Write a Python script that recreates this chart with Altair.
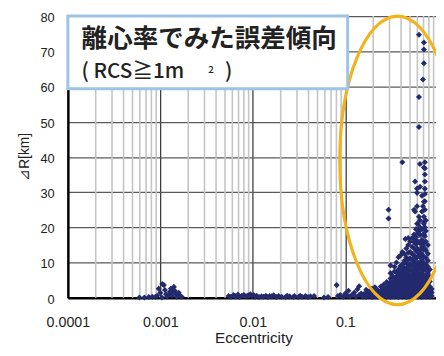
import altair as alt
import pandas as pd

# ---- data ----
# cluster around e = 0.001
ecc_a = [0.000594, 0.000672, 0.00075, 0.000817, 0.00088, 0.000922, 0.00096, 0.001, 0.00104,
         0.00105, 0.00109, 0.00112, 0.00115, 0.00118, 0.00124, 0.00127, 0.0013, 0.00133,
         0.00137, 0.0014, 0.00143, 0.00148, 0.0015, 0.00158, 0.00162, 0.0017]
dr_a = [0.1, 0.1, 0.2, 0.3, 0.2, 0.6, 2.6, 1.4, 0.1,
        3.9, 3.6, 2.2, 1.0, 0.3, 1.1, 1.7, 2.6, 0.6,
        1.6, 3.1, 2.0, 1.0, 0.3, 1.4, 0.6, 0.3]

# cluster 0.005 - 0.05
ecc_b = [0.00548, 0.0058, 0.0062, 0.0065, 0.0069, 0.0072, 0.0076, 0.008, 0.0085, 0.0089,
         0.0094, 0.0098, 0.0102, 0.0106, 0.011, 0.0117, 0.0124, 0.013, 0.0138, 0.0145,
         0.0152, 0.016, 0.0168, 0.018, 0.019, 0.0205, 0.0225, 0.0235, 0.025, 0.0275,
         0.0282, 0.031, 0.0325, 0.034, 0.037, 0.0395, 0.042, 0.0459]
dr_b = [0.5, 0.3, 0.8, 0.4, 0.9, 0.3, 0.6, 0.8, 0.4, 0.7,
        1.0, 0.5, 0.8, 0.3, 0.6, 0.2, 0.4, 0.3, 0.6, 0.2,
        0.5, 0.4, 0.7, 0.2, 0.5, 0.3, 0.2, 0.6, 0.4, 0.3,
        0.5, 0.2, 0.6, 0.3, 0.5, 0.2, 0.4, 0.5]

# cluster 0.05 - 0.15
ecc_c = [0.0587, 0.065, 0.0805, 0.083, 0.088, 0.095, 0.1, 0.105, 0.108, 0.112,
         0.118, 0.125, 0.13, 0.135, 0.141, 0.141, 0.148, 0.152]
dr_c = [0.1, 0.2, 3.6, 0.5, 0.8, 0.3, 1.2, 0.6, 2.0, 0.4,
        0.8, 1.5, 0.3, 2.4, 3.3, 0.8, 1.2, 0.4]

# main cluster (columns of eccentricity, with the ΔR values found there)
main_ecc = [0.156, 0.168, 0.18, 0.194, 0.209, 0.224, 0.242, 0.26, 0.28, 0.293,
            0.308, 0.324, 0.34, 0.357, 0.375, 0.394, 0.413, 0.434, 0.445, 0.456,
            0.478, 0.502, 0.527, 0.553, 0.567, 0.581, 0.596, 0.61, 0.625, 0.641,
            0.673, 0.69, 0.707, 0.724, 0.742, 0.78, 0.819, 0.859]
main_dr = [
    [0.3, 1.0, 0.6],
    [0.2, 1.5, 2.3],
    [0.5, 0.9, 1.8],
    [0.2, 1.2, 2.6, 0.7],
    [0.4, 1.0, 1.9, 3.0],
    [0.3, 0.8, 1.5, 2.2],
    [0.2, 0.6, 1.2, 2.0, 3.2],
    [0.4, 1.0, 1.6, 2.5, 3.8],
    [0.3, 0.9, 1.7, 2.4, 3.0, 4.5],
    [0.5, 1.2, 2.0, 3.5, 22.5, 25.0],
    [0.2, 0.8, 1.5, 2.5, 3.3, 4.5, 5.5, 7.0, 9.2],
    [0.4, 1.0, 1.8, 2.8, 3.8, 5.0, 6.2],
    [0.3, 1.2, 2.2, 3.0, 4.2, 5.5, 7.5, 8.8],
    [0.6, 1.5, 2.5, 3.5, 4.8, 6.0, 7.2, 10.0],
    [0.2, 0.9, 1.8, 2.8, 4.0, 5.2, 6.5, 8.0, 11.5],
    [0.5, 1.3, 2.2, 3.2, 4.4, 5.8, 7.0, 9.0, 12.0],
    [0.3, 1.0, 1.9, 2.7, 3.8, 5.0, 6.3, 7.8, 9.5, 13.0, 38.5],
    [0.6, 1.5, 2.4, 3.4, 4.6, 5.8, 7.2, 8.5, 10.5, 12.5],
    [10.6, 16.7, 1.8, 4.0, 6.4],
    [0.2, 1.1, 2.0, 3.0, 4.2, 5.4, 6.8, 8.2, 9.8, 11.5, 14.0],
    [0.5, 1.4, 2.4, 3.5, 4.6, 6.0, 7.5, 9.0, 10.8, 12.8, 15.0, 17.0],
    [0.3, 1.0, 1.9, 2.9, 4.0, 5.2, 6.5, 8.0, 9.6, 11.2, 13.0, 16.0],
    [0.6, 1.6, 2.6, 3.7, 4.9, 6.2, 7.6, 9.2, 10.8, 12.5, 14.5, 17.0],
    [0.2, 1.2, 2.2, 3.2, 4.4, 5.6, 7.0, 8.6, 10.2, 12.0, 14.0, 15.8, 18.0, 25.0],
    [24.5, 33.0, 3.0, 7.5, 11.5, 16.5],
    [0.5, 1.5, 2.6, 3.8, 5.0, 6.4, 7.9, 9.5, 11.2, 13.2, 15.2, 17.2, 19.5],
    [26.0, 29.8, 31.0, 1.0, 4.5, 9.0, 14.0, 21.0],
    [0.3, 1.1, 2.0, 3.0, 4.2, 5.5, 7.0, 8.5, 10.0, 11.8, 13.8, 16.0, 18.5, 21.0],
    [57.0, 48.5, 74.7, 2.5, 6.0, 12.5, 19.0, 23.0],
    [0.6, 1.6, 2.7, 3.9, 5.2, 6.6, 8.1, 9.7, 11.5, 13.5, 15.5, 17.8, 19.5, 20.0, 22.0, 31.5, 38.0],
    [0.2, 1.0, 2.0, 3.2, 4.5, 5.8, 7.3, 8.9, 10.6, 12.4, 14.4, 16.5, 19.5, 24.5, 29.0],
    [62.0, 1.5, 5.0, 10.0, 15.0, 18.0, 26.0],
    [0.5, 1.4, 2.5, 3.7, 5.0, 6.4, 8.0, 9.8, 11.6, 13.6, 15.8, 18.0, 21.0, 21.5, 23.0, 27.3, 37.0, 72.5, 70.5, 66.6],
    [20.0, 25.0, 27.4, 29.5, 31.0, 33.0, 35.0, 36.8, 38.5, 3.0, 8.5, 14.0, 17.5],
    [0.3, 1.2, 2.2, 3.4, 4.8, 6.2, 7.8, 9.5, 11.4, 13.5, 16.0, 19.0, 22.0],
    [0.6, 1.6, 2.8, 4.0, 5.5, 7.0, 8.8, 10.5, 12.5, 15.0],
    [0.3, 1.0, 2.0, 3.2, 4.6, 6.0, 8.0],
    [0.5, 1.5, 2.5],
]

x_ticks = [0.0001, 0.001, 0.01, 0.1]
y_ticks = [0, 10, 20, 30, 40, 50, 60, 70, 80]
x_max = 0.955
minor_ticks = [d * k for d in x_ticks for k in range(2, 10) if d * k < x_max]

# annotation ellipse (centre in data units)
ellipse_e = [0.366]
ellipse_dr = [39.0]

title_line1 = "離心率でみた誤差傾向"
title_line2 = "(  RCS≧1m"
title_sup = "2"
title_close = ")"

# ---- tables ----
rows = []
for e, d in zip(ecc_a, dr_a):
    rows.append({"e": e, "dr": d})
for e, d in zip(ecc_b, dr_b):
    rows.append({"e": e, "dr": d})
for e, d in zip(ecc_c, dr_c):
    rows.append({"e": e, "dr": d})
for e, ds in zip(main_ecc, main_dr):
    for d in ds:
        rows.append({"e": e, "dr": d})
df = pd.DataFrame(rows)

xscale = alt.Scale(type="log", domain=[0.0001, x_max], nice=False)
yscale = alt.Scale(domain=[0, 80], nice=False)

FONT = "Liberation Sans"
JP = "Noto Sans CJK JP"

x_axis = alt.Axis(values=x_ticks, format="~g", grid=True, gridColor="#3c3c3c", gridWidth=1.3,
                  domainColor="black", domainWidth=2.5, ticks=False, tickSize=0,
                  labelPadding=18, labelFontSize=14.5, labelFont=FONT, labelColor="#222222",
                  labelFlush=False, labelOverlap=False,
                  title="Eccentricity", titleFont=FONT, titleFontSize=15.5, titleFontWeight="normal",
                  titleColor="#222222", titleY=41, titleBaseline="middle", titleX=189)
y_axis = alt.Axis(values=y_ticks, grid=True, gridColor="#5a5a5a", gridWidth=1.3,
                  domainColor="black", domainWidth=2.5, ticks=False, tickSize=0,
                  labelPadding=14, labelFontSize=13, labelFont=FONT, labelColor="#222222",
                  labelOffset=1.5, labelFlush=False, labelOverlap=False,
                  title="⊿R[km]", titleFont=FONT, titleFontSize=14, titleFontWeight="normal",
                  titleColor="#222222", titleX=-44, titleY=143, titleAngle=270,
                  titleAlign="center", titleBaseline="middle")

X = alt.X("e:Q", scale=xscale, axis=x_axis)
Y = alt.Y("dr:Q", scale=yscale, axis=y_axis)

minor = alt.Chart(pd.DataFrame({"e": minor_ticks})).mark_rule(
    color="#c4c4c4", strokeWidth=1.6
).encode(x=X)

points = alt.Chart(df).mark_point(
    shape="diamond", filled=True, size=38, color="#232a6e", opacity=1
).encode(x=X, y=Y)

k = 0.40
c = round(k * 0.5523, 4)
ell_path = (f"M 0 -1 C {c} -1 {k} -0.5523 {k} 0 C {k} 0.5523 {c} 1 0 1 "
            f"C -{c} 1 -{k} 0.5523 -{k} 0 C -{k} -0.5523 -{c} -1 0 -1 Z")
ellipse = alt.Chart(pd.DataFrame({"e": ellipse_e, "dr": ellipse_dr})).mark_point(
    shape=ell_path, size=294 * 294, filled=False, color="#f2b31c", strokeWidth=3.2, opacity=1
).encode(x=X, y=Y)

one = pd.DataFrame({"a": [0]})
box = alt.Chart(one).mark_rect(fill="white", stroke="#9dc3e6", strokeWidth=3).encode(
    x=alt.value(0), x2=alt.value(285), y=alt.value(0), y2=alt.value(74)
)
t1 = alt.Chart(one).mark_text(align="left", baseline="alphabetic", font=JP, fontSize=26,
                              fontWeight="bold", color="#222222").encode(
    x=alt.value(14), y=alt.value(32), text=alt.value(title_line1))
t2 = alt.Chart(one).mark_text(align="left", baseline="alphabetic", font=JP, fontSize=21,
                              fontWeight=500, color="#222222").encode(
    x=alt.value(14), y=alt.value(63), text=alt.value(title_line2))
t3 = alt.Chart(one).mark_text(align="left", baseline="alphabetic", font=JP, fontSize=10,
                              fontWeight=500, color="#222222").encode(
    x=alt.value(143), y=alt.value(58), text=alt.value(title_sup))
t4 = alt.Chart(one).mark_text(align="left", baseline="alphabetic", font=JP, fontSize=21,
                              fontWeight=500, color="#222222").encode(
    x=alt.value(160), y=alt.value(63), text=alt.value(title_close))

chart = alt.layer(minor, points, ellipse, box, t1, t2, t3, t4).properties(
    width=375, height=287,
    autosize=alt.AutoSizeParams(type="none"),
    padding={"left": 61, "top": 5, "right": 0, "bottom": 52},
).configure_view(stroke=None).configure(background="white")

chart.save("out.html", embed_options={"renderer": "svg", "actions": False})
